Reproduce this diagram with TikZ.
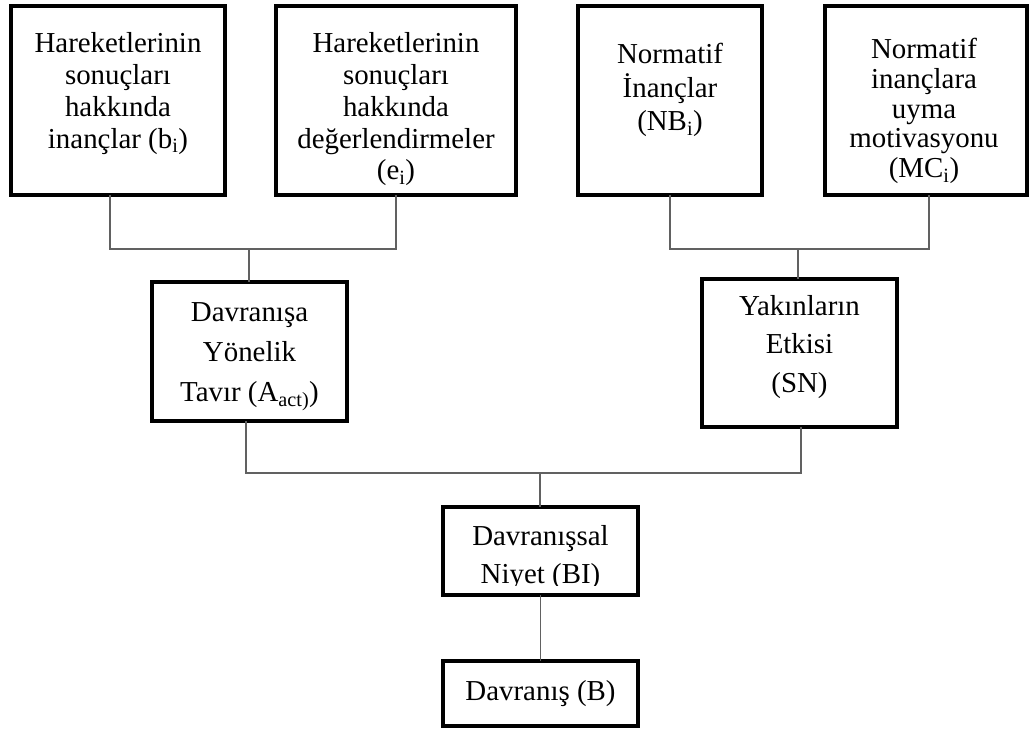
\documentclass[tikz,border=0pt]{standalone}
\usepackage{fontspec}
\setmainfont{Liberation Serif}
% centred block of lines, baseline at the first line
\newcommand\boxtext[2]{{\fontsize{28.9}{#1}\selectfont\begin{tabular}[t]{@{}c@{}}#2\end{tabular}}}
\begin{document}
\begin{tikzpicture}[x=1pt,y=-1pt,
  box/.style={draw=black, line width=4pt, fill=white, inner sep=0pt, outer sep=0pt},
  txt/.style={inner sep=0pt, anchor=base},
  link/.style={draw=black!62, line width=1.4pt}]
\useasboundingbox (0,0) rectangle (1033,730);

% top row
\node[box, minimum width=214pt, minimum height=189pt] (b1) at (118,100.5) {};
\node[box, minimum width=240pt, minimum height=189pt] (b2) at (396,100.5) {};
\node[box, minimum width=184pt, minimum height=189pt] (b3) at (670,100.5) {};
\node[box, minimum width=202pt, minimum height=189pt] (b4) at (926,100.5) {};
% middle row
\node[box, minimum width=195pt, minimum height=139pt] (b5) at (249.5,351.5) {};
\node[box, minimum width=195pt, minimum height=148pt] (b6) at (799.5,353) {};
% intention and behaviour
\node[box, minimum width=195pt, minimum height=88pt] (b7) at (540.5,551) {};
\node[box, minimum width=195pt, minimum height=65pt] (b8) at (540.5,693.5) {};

% texts
\node[txt] (t1) at (118,53) {\boxtext{31.7}{Hareketlerinin\\sonuçları\\hakkında\\inançlar (b\textsubscript{i})}};
\node[txt] (t2) at (396,53) {\boxtext{31.7}{Hareketlerinin\\sonuçları\\hakkında\\değerlendirmeler\\(e\textsubscript{i})}};
\node[txt] (t3) at (670,64) {\boxtext{33}{Normatif\\İnançlar\\(NB\textsubscript{i})}};
\node[txt] (t4) at (924,59) {\boxtext{29.6}{Normatif\\inançlara\\uyma\\motivasyonu\\(MC\textsubscript{i})}};
\node[txt] (t5) at (249.5,321) {\boxtext{40}{Davranışa\\Yönelik\\Tavır (A\textsubscript{act)})}};
\node[txt] (t6) at (799.5,315) {\boxtext{38.5}{Yakınların\\Etkisi\\(SN)}};
\begin{scope}
  \clip (443,507) rectangle (638,585);
  \node[txt] (t7) at (540.5,545) {\boxtext{38}{Davranışsal\\Niyet (BI)}};
\end{scope}
\node[txt] (t8) at (540.5,700) {\boxtext{31.7}{Davranış (B)}};

% connectors
\coordinate (j1) at (249,249);
\coordinate (j2) at (798,249);
\coordinate (j3) at (540,473);
\draw[link] ([xshift=-8pt]b1.south) |- (j1) -| (b2.south);
\draw[link] (j1) -- (j1 |- b5.north);
\draw[link] (b3.south) |- (j2) -| ([xshift=3pt]b4.south);
\draw[link] (j2) -- (j2 |- b6.north);
\draw[link] ([xshift=-3.5pt]b5.south) |- (j3) -| ([xshift=1.5pt]b6.south);
\draw[link] (j3) -- (j3 |- b7.north);
\draw[link] (b7.south) -- (b8.north);
\end{tikzpicture}
\end{document}
